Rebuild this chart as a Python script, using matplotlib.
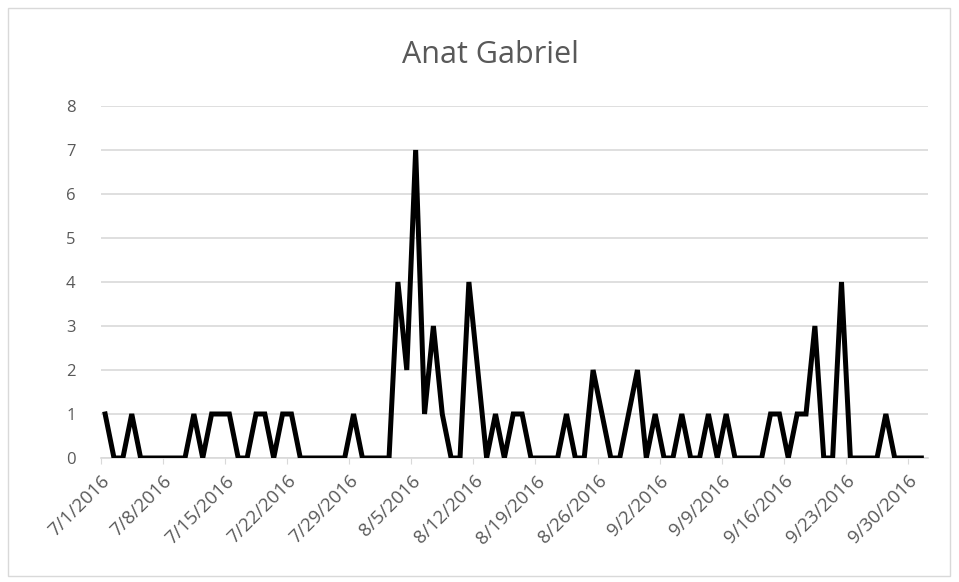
import matplotlib
matplotlib.use("Agg")
import matplotlib.pyplot as plt
import pandas as pd
from matplotlib.patches import Rectangle

title = "Anat Gabriel"
start_date = "2016-07-01"
end_date = "2016-10-01"
values = [1, 0, 0, 1, 0, 0, 0, 0, 0, 0,
          1, 0, 1, 1, 1, 0, 0, 1, 1, 0,
          1, 1, 0, 0, 0, 0, 0, 0, 1, 0,
          0, 0, 0, 4, 2, 7, 1, 3, 1, 0,
          0, 4, 2, 0, 1, 0, 1, 1, 0, 0,
          0, 0, 1, 0, 0, 2, 1, 0, 0, 1,
          2, 0, 1, 0, 0, 1, 0, 0, 1, 0,
          1, 0, 0, 0, 0, 1, 1, 0, 1, 1,
          3, 0, 0, 4, 0, 0, 0, 0, 1, 0,
          0, 0, 0]
tick_labels = ["7/1/2016", "7/8/2016", "7/15/2016", "7/22/2016", "7/29/2016",
               "8/5/2016", "8/12/2016", "8/19/2016", "8/26/2016", "9/2/2016",
               "9/9/2016", "9/16/2016", "9/23/2016", "9/30/2016"]
y_ticks = [0, 1, 2, 3, 4, 5, 6, 7, 8]

dates = pd.date_range(start_date, end_date, freq="D")
xpts = dates + pd.Timedelta(hours=12)
tick_dates = pd.to_datetime(tick_labels, format="%m/%d/%Y")

W, H = 959, 582
fig = plt.figure(figsize=(W / 100, H / 100), dpi=100)
fig.patch.set_facecolor("white")
fig.add_artist(Rectangle((8 / W, 6 / H), 942 / W, 568 / H, transform=fig.transFigure,
                         fill=False, edgecolor="#d9d9d9", linewidth=1))

ax = fig.add_axes([100.7 / W, 124 / H, (928 - 100.7) / W, (458 - 106) / H])
font = ["Open Sans", "DejaVu Sans"]
gray = "#595959"

ax.plot(xpts, values, color="black", linewidth=3.6, solid_joinstyle="miter", zorder=3)

ax.set_ylim(0, 8)
ax.set_yticks(y_ticks)
ax.set_yticklabels([str(v) for v in y_ticks], fontsize=12, color=gray, family=font)
ax.set_xlim(dates[0], dates[-1] + pd.Timedelta(hours=30))
ax.set_xticks(tick_dates)
ax.set_xticklabels(tick_labels, rotation=45, ha="right", rotation_mode="anchor",
                   fontsize=13.5, color=gray, family=font)
ax.tick_params(axis="y", length=0, pad=18)
ax.tick_params(axis="x", length=4, color="#d9d9d9", pad=6)

ax.grid(axis="y", color="#d9d9d9", linewidth=1.2, zorder=0)
for s in ["top", "right", "left"]:
    ax.spines[s].set_visible(False)
ax.spines["bottom"].set_color("#d9d9d9")
ax.spines["bottom"].set_linewidth(1.2)

fig.text(490 / W, 1 - 55 / H, title, ha="center", va="center", fontsize=22,
         color=gray, family=font)

fig.savefig("out.png", dpi=100)
